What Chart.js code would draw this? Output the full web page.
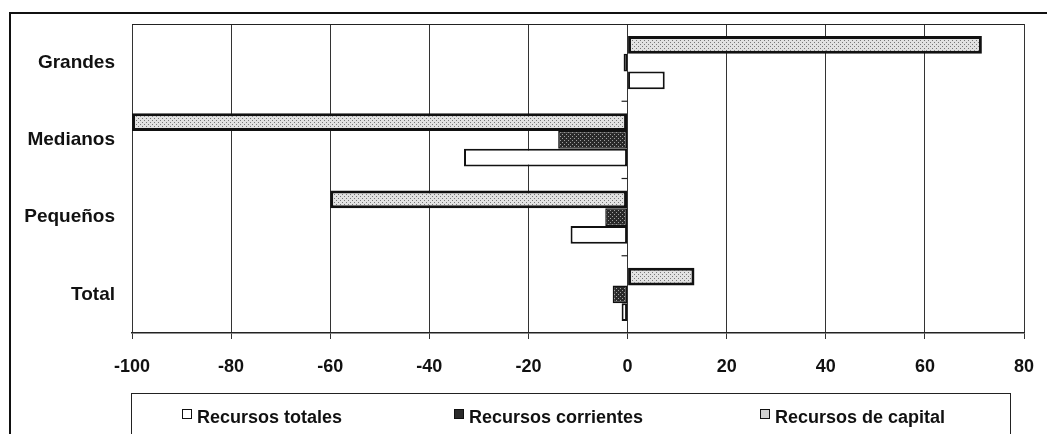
<!DOCTYPE html>
<html>
  <head>
    <meta charset="UTF-8" />
    <title>Recursos</title>
    <script src="https://cdn.jsdelivr.net/npm/chart.js@4/dist/chart.umd.min.js"></script>
    <style>
      body { margin: 0; background: #fff; }
      #wrap { position: relative; width: 1047px; height: 434px; overflow: hidden; }
      #frame { position: absolute; left: 9px; top: 12px; right: -5px; bottom: -5px;
        border-top: 2px solid #111; border-left: 2px solid #111; }
      #legend { position: absolute; left: 131px; top: 393px; width: 878px; height: 60px;
        border: 1.5px solid #222; font: bold 18px "Liberation Sans", Arial, sans-serif; color: #111; }
      .item { position: absolute; top: 13px; white-space: nowrap; }
      .box { display: inline-block; width: 8px; height: 8px; border: 1.5px solid #111;
        margin-right: 5px; vertical-align: 4px; }
    </style>
  </head>
  <body>
    <div id="wrap">
      <div id="frame"></div>
      <canvas id="chart" width="1047" height="434"></canvas>
      <div id="legend"></div>
    </div>
    <script>
      // values (percent)
      const categories = ['Grandes', 'Medianos', 'Pequeños', 'Total'];
      const seriesNames = ['Recursos totales', 'Recursos corrientes', 'Recursos de capital'];
      const totales = [7.5, -33, -11.5, -1.2];
      const corrientes = [-0.8, -14, -4.5, -3];
      const capital = [71.5, -100, -60, 13.5];
      const xTicks = [-100, -80, -60, -40, -20, 0, 20, 40, 60, 80];

      function makePattern(bg, dot) {
        const c = document.createElement('canvas');
        c.width = 4; c.height = 4;
        const g = c.getContext('2d');
        g.fillStyle = bg; g.fillRect(0, 0, 4, 4);
        g.fillStyle = dot;
        g.fillRect(0, 0, 1, 1); g.fillRect(2, 2, 1, 1);
        return g.createPattern(c, 'repeat');
      }
      const ctx = document.getElementById('chart').getContext('2d');
      const capPattern = makePattern('#e2e2e2', '#777');
      const corPattern = makePattern('#2a2a2a', '#a0a0a0');

      // short marks on the zero line between categories, plus the plot top edge
      const extras = {
        id: 'extras',
        afterDraw(chart) {
          const { ctx, chartArea, scales: { x, y } } = chart;
          ctx.save();
          ctx.strokeStyle = '#222';
          ctx.lineWidth = 1.2;
          ctx.beginPath();
          ctx.moveTo(chartArea.left, chartArea.top + 0.5);
          ctx.lineTo(chartArea.right, chartArea.top + 0.5);
          ctx.stroke();
          const x0 = x.getPixelForValue(0);
          for (let i = 0; i < categories.length - 1; i++) {
            const yy = (y.getPixelForValue(i) + y.getPixelForValue(i + 1)) / 2;
            ctx.beginPath();
            ctx.moveTo(x0 - 6, yy);
            ctx.lineTo(x0, yy);
            ctx.stroke();
          }
          ctx.restore();
        }
      };

      new Chart(ctx, {
        type: 'bar',
        data: {
          labels: categories,
          datasets: [
            { label: seriesNames[2], data: capital, backgroundColor: capPattern, borderColor: '#111', borderWidth: 3, borderSkipped: false },
            { label: seriesNames[1], data: corrientes, backgroundColor: corPattern, borderColor: '#111', borderWidth: 1.5, borderSkipped: false },
            { label: seriesNames[0], data: totales, backgroundColor: '#fff', borderColor: '#111', borderWidth: 2, borderSkipped: false }
          ]
        },
        options: {
          indexAxis: 'y',
          responsive: false,
          animation: false,
          layout: { padding: { left: 0, right: 23, top: 24, bottom: 61 } },
          datasets: { bar: { barPercentage: 1, categoryPercentage: 0.69 } },
          plugins: { legend: { display: false }, tooltip: { enabled: false } },
          scales: {
            x: {
              min: -100, max: 80,
              afterBuildTicks: s => { s.ticks = xTicks.map(v => ({ value: v })); },
              afterFit: s => { s.height = 40; s.paddingLeft = 0; s.paddingRight = 0; },
              grid: { color: '#333', lineWidth: 1, tickLength: 6, tickColor: '#333' },
              border: { display: true, color: '#222', width: 1.5 },
              ticks: { color: '#111', padding: 17, font: { family: 'Liberation Sans', size: 18, weight: 'bold' } }
            },
            y: {
              afterFit: s => { s.width = 132; s.paddingTop = 0; s.paddingBottom = 0; },
              grid: { display: false, drawTicks: false },
              border: { display: false },
              ticks: { color: '#111', padding: 17, font: { family: 'Liberation Sans', size: 19, weight: 'bold' } }
            }
          }
        },
        plugins: [extras]
      });

      // legend below the plot, in its own box
      const legend = document.getElementById('legend');
      const legendX = [50, 322, 628];
      const legendBg = ['#fff', '#2a2a2a', '#d0d0d0'];
      seriesNames.forEach((name, i) => {
        const item = document.createElement('div');
        item.className = 'item';
        item.style.left = legendX[i] + 'px';
        item.innerHTML = `<span class="box" style="background:${legendBg[i]}"></span>${name}`;
        legend.appendChild(item);
      });
    </script>
  </body>
</html>
